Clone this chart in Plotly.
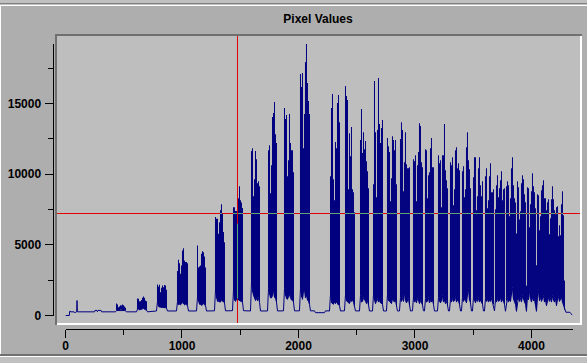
import plotly.graph_objects as go

W, H = 587, 363
NAVY = "#000080"
TITLE = "Pixel Values"
X_TICKS = [0, 1000, 2000, 3000, 4000]
Y_TICKS = [0, 5000, 10000, 15000]
CURSOR_X = 1476.4
CURSOR_Y = 7216
COL = 8.584

lead_x = [0, 33, 36, 47, 73, 82, 90, 96, 99, 102, 250, 253, 270, 274, 279, 305, 310, 428]
lead_y = [0, 0, 300, 260, 260, 190, 260, 260, 1060, 260, 260, 360, 360, 270, 360, 360, 260, 260]
tail_x = [4296, 4330, 4340, 4350]
tail_y = [230, 230, 130, 30]
dip_after_band = 10
dip_x = [2137, 2146, 2223, 2232]
dip_y = [330, 200, 200, 330]

band_start = [437.8, 618.0, 789.7, 961.4, 1133.1, 1287.6, 1442.1, 1596.6, 1742.6, 1879.9,
              2017.2, 2274.8, 2403.5, 2532.3, 2643.9, 2764.0, 2875.6, 2987.2, 3090.2,
              3201.8, 3304.8, 3407.8, 3502.3, 3605.3, 3691.1]
gap_level = [260, 260, 320, 320, 320, 330, 340, 320, 320, 330, 330, 320, 330, 320, 320, 320,
             320, 330, 320, 320, 320, 320, 320, 320, 320]

band_upper = [
    [850, 780, 590, 640, 730, 710, 780, 730, 640, 550],
    [1200, 1190, 1010, 1010, 1100, 1250, 1350, 1250, 1060, 1010],
    [2200, 2050, 2180, 1650, 1960, 2130, 2000, 2150, 2130, 1820],
    [3140, 3950, 3700, 2950, 3540, 4600, 4750, 3900, 3780, 3780, 3700],
    [4960, 3400, 3470, 3540, 4370, 4540, 4480, 4180, 3400],
    [6970, 6850, 6850, 5790, 6600, 7440, 7870, 7200, 5900, 5180],
    [7650, 7650, 7400, 7400, 6500, 8300, 9150, 8150, 8000, 7600],
    [11630, 11840, 8440, 9640, 11630, 11060, 9360, 9500, 9150],
    [11700, 12050, 8650, 10630, 14040, 14320, 15100, 12830, 12200],
    [14680, 13900, 14180, 9850, 10990, 14250, 12200, 11700, 11700, 10140],
    [17090, 16170, 17160, 11840, 14250, 17940, 19210, 16450, 15170, 14250],
    [9850, 14680, 15670, 9640, 8150, 12270, 11840, 15030, 15600, 13680],
    [16240, 15530, 15240, 8930, 12900, 11270, 13330, 8930, 8720, 7300],
    [12410, 14610, 11490, 12970, 11770, 12340, 10920, 10210, 9000],
    [9290, 16590, 12970, 8370, 13120, 16800, 13540, 12200, 13260, 13830],
    [12550, 11980, 11560, 8080, 9710, 12690, 12410, 11700, 12410, 9290],
    [12480, 13680, 13120, 8790, 10850, 12970, 10700, 10420, 10420, 10490],
    [11060, 10920, 11340, 8080, 10630, 11560, 13610, 13400, 10850, 10490],
    [11770, 11700, 8300, 9930, 10140, 11840, 12550, 10490, 10490],
    [11340, 10780, 10990, 7660, 11340, 11340, 13540, 10280, 9570, 9000],
    [10850, 10630, 11200, 7800, 8930, 11700, 11910, 10420, 10780, 10280],
    [10210, 10560, 8370, 8930, 11910, 12970, 10990, 10350, 9000],
    [9780, 11200, 11200, 7440, 8440, 10420, 11200, 9220, 8440, 9500],
    [9860, 10420, 7590, 8150, 9860, 10780, 8720, 8720, 8930],
    [7520, 9220, 9930, 8370, 9000, 9570, 10210, 8150, 8930, 9000, 300, 9150, 9500, 9220, 7020,
     8300, 10420, 11200, 9220, 8300, 8000, 5810, 9500, 9070, 6800, 7370, 9360, 9930, 9640, 8580,
     8010, 2100, 9070, 9000, 6240, 7870, 8790, 10070, 9150, 8720, 7590, 3550, 8580, 8510, 6030,
     7020, 8860, 9220, 9570, 8300, 8300, 7440, 8010, 8220, 5740, 6880, 8220, 9150, 8220, 7440,
     7160, 7660, 7730, 5600, 6380, 5670, 7870, 8790, 7090, 2480],
]

band_floor = [
    [350, 350, 380, 380, 400, 400, 380, 380, 350, 330],
    [450, 450, 400, 420, 450, 500, 500, 450, 420, 380],
    [1000, 650, 600, 600, 550, 600, 600, 550, 550, 520],
    [1000, 760, 800, 760, 850, 900, 830, 760, 800, 760, 700],
    [1300, 1000, 800, 780, 720, 760, 830, 760, 700],
    [1800, 1200, 1000, 1000, 950, 950, 1100, 1000, 950, 900],
    [1800, 1100, 1000, 1150, 1200, 1100, 1060, 1000, 1000, 950],
    [2300, 1650, 1420, 1250, 1060, 1200, 1060, 1250, 940],
    [1900, 1450, 1250, 1250, 1400, 1800, 1300, 1200, 950],
    [1900, 1400, 1200, 1150, 1350, 1500, 1250, 1100, 1100, 950],
    [1900, 1300, 1150, 1650, 1800, 1250, 1450, 1100, 1000, 800],
    [1500, 900, 850, 800, 950, 850, 950, 800, 750, 700],
    [1500, 1050, 950, 900, 850, 1050, 1000, 1100, 950, 700],
    [1400, 950, 1000, 1250, 1150, 1000, 850, 1050, 750],
    [1500, 1100, 850, 1000, 1200, 950, 1050, 900, 850, 800],
    [1500, 1050, 1000, 900, 850, 1150, 1050, 950, 1100, 750],
    [1250, 1000, 1250, 1000, 1650, 1050, 900, 1000, 1200, 750],
    [1300, 950, 1050, 900, 1200, 1050, 850, 1050, 900, 750],
    [1200, 950, 1000, 1250, 900, 1050, 950, 1100, 800],
    [1250, 1000, 900, 1050, 1400, 950, 1100, 850, 1050, 750],
    [1150, 950, 1200, 1000, 1050, 1350, 950, 1100, 1000, 800],
    [1250, 1000, 1150, 1050, 900, 1400, 1900, 1100, 900],
    [1300, 1050, 900, 1150, 1000, 1250, 950, 1100, 900, 800],
    [1200, 1000, 1150, 950, 1100, 1000, 1250, 900, 800],
    [1100, 950, 1200, 1000, 1050, 1300, 950, 1150, 1000, 800, 300, 1050, 1250, 950, 1100,
     1000, 1450, 1980, 1150, 1000, 800, 300, 1100, 1300, 1000, 1250, 950, 1400, 1150, 1000,
     800, 300, 1300, 1100, 1770, 1200, 950, 1300, 1050, 1150, 800, 300, 1200, 1840, 1050,
     1300, 1000, 1150, 1400, 950, 1100, 700, 1050, 1300, 1000, 1250, 950, 1400, 1100, 950,
     1200, 700, 1100, 1350, 1000, 1150, 1300, 950, 700, 400],
]

col_x, col_top, col_floor = [], [], []
line_x, line_y = list(lead_x), list(lead_y)
for b, (start, upper, floor, level) in enumerate(zip(band_start, band_upper, band_floor, gap_level)):
    xs = [start + i * COL for i in range(len(upper))]
    col_x += xs
    col_top += upper
    col_floor += floor
    line_x += [xs[0] - COL] + xs + [xs[-1] + COL]
    line_y += [level] + floor + [level]
    if b == dip_after_band:
        line_x += dip_x
        line_y += dip_y
line_x += tail_x
line_y += tail_y

# Where the XOR cursor crosses the filled columns it shows green
green_x, green_y = [], []
for x, top, low in zip(col_x, col_top, col_floor):
    if low < CURSOR_Y < top:
        green_x += [x - COL / 2, x + COL / 2, None]
        green_y += [CURSOR_Y, CURSOR_Y, None]
    if x - COL / 2 <= CURSOR_X < x + COL / 2:
        green_x += [CURSOR_X, CURSOR_X, None]
        green_y += [low, top, None]


def rect(x0, y0, x1, y1, color):
    return dict(type="rect", xref="paper", yref="paper", x0=x0 / W, x1=x1 / W,
                y0=1 - y1 / H, y1=1 - y0 / H, fillcolor=color, line_width=0, layer="below")


shapes = [
    rect(0, 3, W, 4, "#808080"),
    rect(0, 5, W, 6, "#ffffff"),
    rect(0, 6, W, 354, "#aeaeae"),
    rect(0, 5, 1, 355, "#ffffff"),
    rect(0, 354, W, 356, "#707070"),
    rect(0, 356, W, 357, "#ffffff"),
    rect(55, 34, 582, 325, "#ffffff"),
    rect(55, 34, 582, 36, "#707070"),
    rect(55, 34, 57, 325, "#707070"),
    rect(57, 36, 580, 323, "#bebebe"),
    dict(type="line", xref="x", yref="paper", x0=CURSOR_X, x1=CURSOR_X,
         y0=1 - 323 / H, y1=1 - 36 / H, line=dict(color="#e00000", width=1), layer="below"),
    dict(type="line", xref="paper", yref="y", x0=57 / W, x1=580 / W,
         y0=CURSOR_Y, y1=CURSOR_Y, line=dict(color="#e00000", width=1), layer="below"),
]

fig = go.Figure()
fig.add_bar(x=col_x, y=[t - f for t, f in zip(col_top, col_floor)], base=col_floor, width=COL,
            marker=dict(color="rgba(0,0,128,0.999)", line_width=0), hoverinfo="skip")
fig.add_scatter(x=line_x, y=line_y, mode="lines", line=dict(color=NAVY, width=1, shape="linear"),
                hoverinfo="skip")
fig.add_scatter(x=green_x, y=green_y, mode="lines", line=dict(color="#62aa74", width=1),
                hoverinfo="skip")

font = dict(family="Liberation Sans", size=12, color="#000000", weight="bold")
fig.update_layout(
    template="none",
    width=W, height=H, autosize=False, margin=dict(l=0, r=0, t=0, b=0, pad=0),
    paper_bgcolor="#c0c0c0", plot_bgcolor="rgba(0,0,0,0)", showlegend=False, shapes=shapes,
    title=dict(text=TITLE, x=318 / W, xanchor="center", y=1 - 18.5 / H, yanchor="middle",
               xref="paper", yref="paper", font=font, automargin=False),
    xaxis=dict(domain=[65.5 / W, 572.7 / W], range=[0, 4354], anchor="free", automargin=False,
               position=1 - 328.5 / H, showgrid=False, zeroline=False, showline=True,
               linecolor="#000000", linewidth=1, ticks="outside", ticklen=8, tickwidth=1,
               tickcolor="#000000", tickvals=X_TICKS, ticktext=[str(v) for v in X_TICKS],
               tickfont=font, ticklabelstandoff=-2,
               minor=dict(dtick=500, ticks="outside", ticklen=5, tickwidth=1,
                          tickcolor="#000000", showgrid=False)),
    yaxis=dict(domain=[1 - 316 / H, 1 - 44 / H], range=[-35, 19208], anchor="free", automargin=False,
               position=52.5 / W, showgrid=False, zeroline=False, showline=True,
               linecolor="#000000", linewidth=1, ticks="outside", ticklen=8, tickwidth=1,
               tickcolor="#000000", tickvals=Y_TICKS, ticktext=[str(v) for v in Y_TICKS],
               tickfont=font, ticklabelstandoff=1,
               minor=dict(dtick=2500, ticks="outside", ticklen=5, tickwidth=1,
                          tickcolor="#000000", showgrid=False)),
    barmode="overlay",
)
fig.write_html("out.html", post_script="document.body.style.margin='0';document.documentElement.style.overflow='hidden';",
               config={"displayModeBar": False})
